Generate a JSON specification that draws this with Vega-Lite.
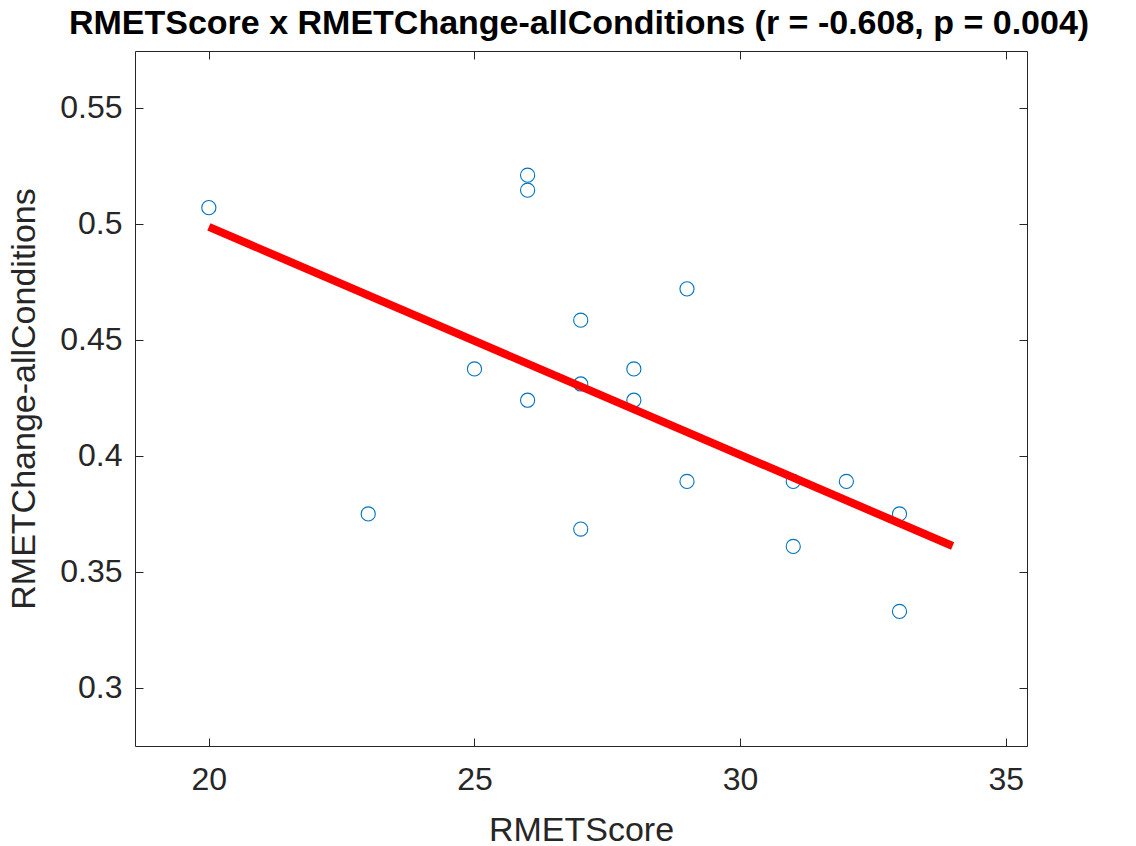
{
  "$schema": "https://vega.github.io/schema/vega-lite/v6.json",
  "width": 892,
  "height": 695,
  "autosize": {"type": "none"},
  "padding": {"left": 135, "top": 51, "right": 109, "bottom": 100},
  "background": "white",
  "title": {
    "text": "RMETScore x RMETChange-allConditions (r = -0.608, p = 0.004)",
    "font": "Liberation Sans",
    "fontSize": 34,
    "fontWeight": "bold",
    "color": "black",
    "baseline": "alphabetic",
    "offset": 16,
    "dx": -2,
    "dy": 33
  },
  "config": {
    "view": {"stroke": null},
    "axis": {
      "grid": false,
      "domainColor": "#262626",
      "domainWidth": 1,
      "tickColor": "#262626",
      "tickWidth": 1,
      "tickSize": -8,
      "labelFont": "Liberation Sans",
      "labelFontSize": 32,
      "labelColor": "#262626",
      "titleFont": "Liberation Sans",
      "titleFontSize": 34,
      "titleFontWeight": "normal",
      "titleColor": "#262626"
    }
  },
  "datasets": {
    "pts": [
      {"RMETScore": 20, "RMETChange": 0.507},
      {"RMETScore": 23, "RMETChange": 0.375},
      {"RMETScore": 25, "RMETChange": 0.4375},
      {"RMETScore": 26, "RMETChange": 0.521},
      {"RMETScore": 26, "RMETChange": 0.5145},
      {"RMETScore": 26, "RMETChange": 0.424},
      {"RMETScore": 27, "RMETChange": 0.4585},
      {"RMETScore": 27, "RMETChange": 0.431},
      {"RMETScore": 27, "RMETChange": 0.3685},
      {"RMETScore": 28, "RMETChange": 0.4375},
      {"RMETScore": 28, "RMETChange": 0.424},
      {"RMETScore": 29, "RMETChange": 0.472},
      {"RMETScore": 29, "RMETChange": 0.389},
      {"RMETScore": 31, "RMETChange": 0.389},
      {"RMETScore": 31, "RMETChange": 0.361},
      {"RMETScore": 32, "RMETChange": 0.389},
      {"RMETScore": 33, "RMETChange": 0.375},
      {"RMETScore": 33, "RMETChange": 0.333}
    ],
    "fit": [
      {"RMETScore": 20, "RMETChange": 0.4987},
      {"RMETScore": 34, "RMETChange": 0.3612}
    ]
  },
  "resolve": {"axis": {"x": "independent", "y": "independent"}},
  "layer": [
    {
      "data": {"name": "pts"},
      "mark": {"type": "point", "shape": "circle", "filled": false, "size": 200, "stroke": "#0072BD", "strokeWidth": 1.1, "opacity": 1},
      "encoding": {
        "x": {
          "field": "RMETScore", "type": "quantitative",
          "scale": {"domain": [18.61, 35.4], "nice": false, "zero": false},
          "axis": {"orient": "bottom", "values": [20, 25, 30, 35], "title": "RMETScore", "labelPadding": 26, "titlePadding": 18}
        },
        "y": {
          "field": "RMETChange", "type": "quantitative",
          "scale": {"domain": [0.275, 0.5745], "nice": false, "zero": false},
          "axis": {"orient": "left", "values": [0.3, 0.35, 0.4, 0.45, 0.5, 0.55], "format": "~g", "title": "RMETChange-allConditions", "labelPadding": 21, "titlePadding": 18}
        }
      }
    },
    {
      "data": {"name": "fit"},
      "mark": {"type": "line", "color": "#FF0000", "strokeWidth": 8, "strokeCap": "butt"},
      "encoding": {
        "x": {"field": "RMETScore", "type": "quantitative", "axis": {"orient": "top", "values": [20, 25, 30, 35], "labels": false, "title": null}},
        "y": {"field": "RMETChange", "type": "quantitative", "axis": {"orient": "right", "values": [0.3, 0.35, 0.4, 0.45, 0.5, 0.55], "labels": false, "title": null}}
      }
    }
  ]
}
